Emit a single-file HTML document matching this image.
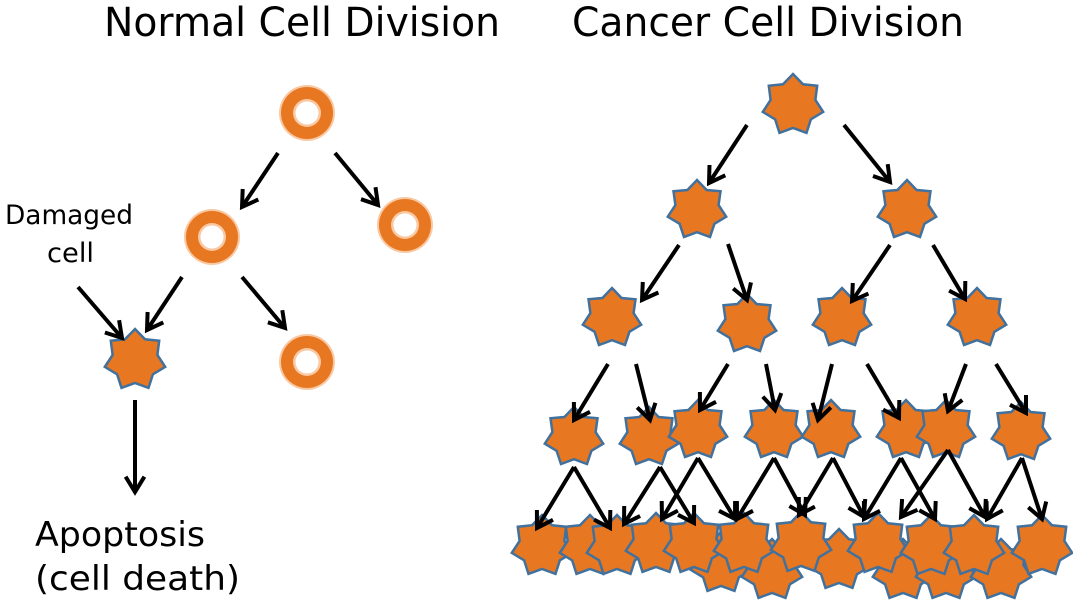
<!DOCTYPE html>
<html><head><meta charset="utf-8"><style>
html,body{margin:0;padding:0;background:#fff;width:1073px;height:604px;overflow:hidden}
svg{display:block}
text{font-family:"DejaVu Sans","Liberation Sans",sans-serif;fill:#000}
</style></head><body>
<svg id="s" width="1073" height="604" viewBox="0 0 1073 604" xmlns="http://www.w3.org/2000/svg">
<text x="104" y="36" font-size="40" textLength="396" lengthAdjust="spacingAndGlyphs">Normal Cell Division</text>
<text x="572" y="36" font-size="40" textLength="392" lengthAdjust="spacingAndGlyphs">Cancer Cell Division</text>
<text x="5" y="224" font-size="27" textLength="128" lengthAdjust="spacingAndGlyphs">Damaged</text>
<text x="47" y="262" font-size="27" textLength="47" lengthAdjust="spacingAndGlyphs">cell</text>
<text x="35" y="546" font-size="34" textLength="170" lengthAdjust="spacingAndGlyphs">Apoptosis</text>
<text x="35" y="590" font-size="34" textLength="205" lengthAdjust="spacingAndGlyphs">(cell death)</text>
<g id="g"></g>
</svg>
<script>
var g=document.getElementById('g'),h='';
function ring(x,y){h+='<circle cx="'+x+'" cy="'+y+'" r="28" fill="#F9C9A4"/><circle cx="'+x+'" cy="'+y+'" r="26" fill="#E87722"/><circle cx="'+x+'" cy="'+y+'" r="14" fill="#F9C9A4"/><circle cx="'+x+'" cy="'+y+'" r="11.5" fill="#fff"/>';}
function star(x,y,r){var p=[],ri=r*0.74;for(var i=0;i<14;i++){var a=-Math.PI/2+i*Math.PI/7,rr=i%2?ri:r;p.push((x+rr*Math.cos(a)).toFixed(1)+','+(y+rr*Math.sin(a)).toFixed(1));}
h+='<polygon points="'+p.join(' ')+'" fill="#E87722" stroke="#41719C" stroke-width="2.5" stroke-linejoin="miter"/>';}
function arr(x1,y1,x2,y2){var a=Math.atan2(y2-y1,x2-x1),L=18,s=0.55;
h+='<path d="M'+x1+','+y1+'L'+x2+','+y2+'M'+(x2-L*Math.cos(a-s)).toFixed(1)+','+(y2-L*Math.sin(a-s)).toFixed(1)+'L'+x2+','+y2+'L'+(x2-L*Math.cos(a+s)).toFixed(1)+','+(y2-L*Math.sin(a+s)).toFixed(1)+'" stroke="#000" stroke-width="4" fill="none"/>';}
ring(307,113);ring(212,237);ring(405,225);ring(307,362);star(135,360,31);
arr(278,153,242,207);arr(335,153,378,205);arr(182,277,147,330);arr(242,277,285,328);arr(78,287,122,338);arr(135,400,135,492);
star(793,105,31);star(697,210,30);star(907,210,30);
star(612,318,30);star(747,324,30);star(842,318,30);star(977,318,30);
var bs=[[721,563],[772,570],[839,560],[903,570],[946,570],[1001,570],[542,546],[590,546],[617,546],[656,544],[694,544],[744,544],[801,543],[878,544],[931,546],[974,546],[1042,546]];
bs.forEach(function(b){star(b[0],b[1],31)});
[[574,437],[649,437],[698,430],[774,430],[831,430],[906,430],[946,430],[1021,432]].forEach(function(b){star(b[0],b[1],30)});
arr(747,125,709,183);arr(844,125,890,182);
arr(679,245,642,300);arr(728,244,747,300);arr(890,245,852,301);arr(933,245,965,299);
arr(608,364,574,420);arr(636,364,650,420);arr(728,364,700,410);arr(766,364,775,410);arr(832,364,818,420);arr(867,364,899,418);arr(966,364,948,411);arr(996,364,1026,413);
var A=[[574,467,537,528],[574,467,610,528],[660,467,624,524],[660,467,694,523],[698,458,662,519],[698,458,735,519],[774,458,737,519],[774,458,805,515],[833,458,799,515],[833,458,864,517],[901,458,864,519],[901,458,935,519],[948,450,901,517],[948,450,985,517],[1022,458,987,519],[1022,458,1042,519]];
A.forEach(function(a){arr(a[0],a[1],a[2],a[3])});
g.innerHTML=h;
</script>
</body></html>
